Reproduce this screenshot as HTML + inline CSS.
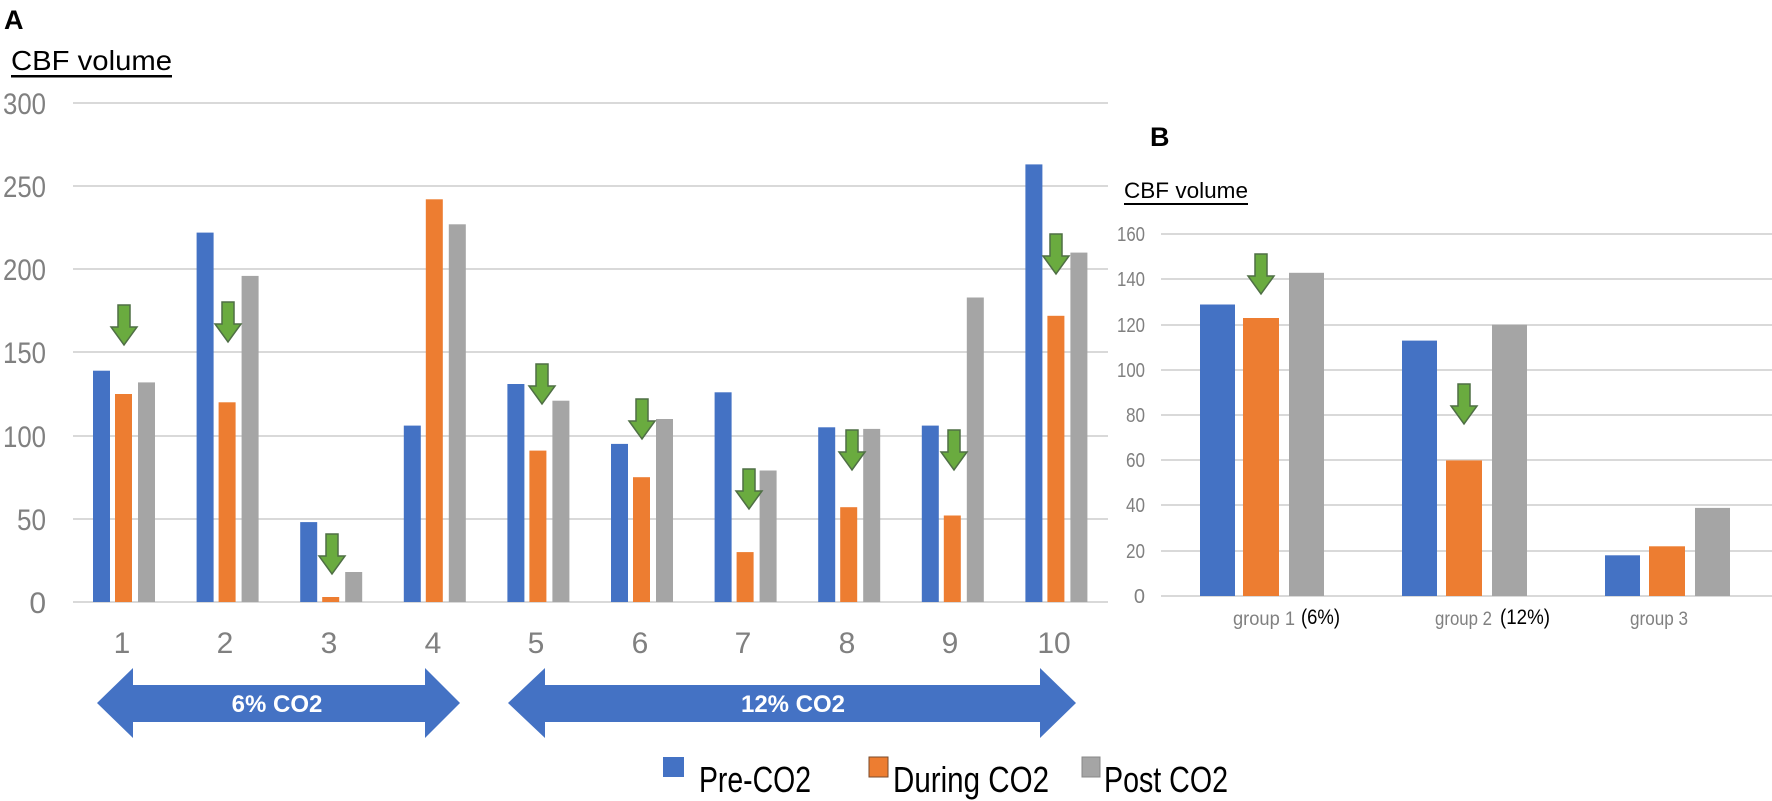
<!DOCTYPE html>
<html><head><meta charset="utf-8"><style>
html,body{margin:0;padding:0;background:#fff;}
svg{display:block;}
text{font-family:"Liberation Sans",sans-serif;}
</style></head><body>
<svg width="1772" height="801" viewBox="0 0 1772 801" xmlns="http://www.w3.org/2000/svg">
<defs>
<path id="ar" d="M-6,0 L6,0 L6,22 L13,22 L0,40 L-13,22 L-6,22 Z" fill="#6aab3f" stroke="#4f6f45" stroke-width="1.5"/>
</defs>
<!-- Panel A titles -->
<text x="4" y="29" font-size="27" font-weight="bold" fill="#000">A</text>
<text x="11" y="70" font-size="28" fill="#000" textLength="161" lengthAdjust="spacingAndGlyphs">CBF volume</text>
<rect x="11" y="75" width="161" height="2.5" fill="#000"/>
<!-- A gridlines -->
<g stroke="#d9d9d9" stroke-width="2">
<line x1="73" x2="1108" y1="103" y2="103"/>
<line x1="73" x2="1108" y1="186" y2="186"/>
<line x1="73" x2="1108" y1="269" y2="269"/>
<line x1="73" x2="1108" y1="352" y2="352"/>
<line x1="73" x2="1108" y1="436" y2="436"/>
<line x1="73" x2="1108" y1="519" y2="519"/>
<line x1="73" x2="1108" y1="602" y2="602"/>
</g>
<g font-size="30" fill="#808080" text-anchor="end">
<text x="46" y="114" textLength="43" lengthAdjust="spacingAndGlyphs">300</text>
<text x="46" y="197" textLength="43" lengthAdjust="spacingAndGlyphs">250</text>
<text x="46" y="280" textLength="43" lengthAdjust="spacingAndGlyphs">200</text>
<text x="46" y="363" textLength="43" lengthAdjust="spacingAndGlyphs">150</text>
<text x="46" y="447" textLength="43" lengthAdjust="spacingAndGlyphs">100</text>
<text x="46" y="530" textLength="29" lengthAdjust="spacingAndGlyphs">50</text>
<text x="46" y="613">0</text>
</g>
<!-- A bars -->
<g fill="#4472c4">
<rect x="93" y="370.7" width="17" height="231.3"/>
<rect x="196.6" y="232.6" width="17" height="369.4"/>
<rect x="300.2" y="522.1" width="17" height="79.9"/>
<rect x="403.8" y="425.6" width="17" height="176.4"/>
<rect x="507.4" y="384" width="17" height="218"/>
<rect x="611" y="443.9" width="17" height="158.1"/>
<rect x="714.6" y="392.3" width="17" height="209.7"/>
<rect x="818.2" y="427.3" width="17" height="174.7"/>
<rect x="921.8" y="425.6" width="17" height="176.4"/>
<rect x="1025.4" y="164.4" width="17" height="437.6"/>
</g>
<g fill="#ed7d31">
<rect x="115" y="394" width="17" height="208"/>
<rect x="218.6" y="402.3" width="17" height="199.7"/>
<rect x="322.2" y="597" width="17" height="5"/>
<rect x="425.8" y="199.3" width="17" height="402.7"/>
<rect x="529.4" y="450.6" width="17" height="151.4"/>
<rect x="633" y="477.2" width="17" height="124.8"/>
<rect x="736.6" y="552.1" width="17" height="49.9"/>
<rect x="840.2" y="507.2" width="17" height="94.8"/>
<rect x="943.8" y="515.5" width="17" height="86.5"/>
<rect x="1047.4" y="315.8" width="17" height="286.2"/>
</g>
<g fill="#a5a5a5">
<rect x="138" y="382.4" width="17" height="219.6"/>
<rect x="241.6" y="275.9" width="17" height="326.1"/>
<rect x="345.2" y="572" width="17" height="30"/>
<rect x="448.8" y="224.3" width="17" height="377.7"/>
<rect x="552.4" y="400.7" width="17" height="201.3"/>
<rect x="656" y="419" width="17" height="183"/>
<rect x="759.6" y="470.5" width="17" height="131.5"/>
<rect x="863.2" y="428.9" width="17" height="173.1"/>
<rect x="966.8" y="297.5" width="17" height="304.5"/>
<rect x="1070.4" y="252.6" width="17" height="349.4"/>
</g>
<!-- A arrows -->
<use href="#ar" x="124" y="305"/>
<use href="#ar" x="228" y="302"/>
<use href="#ar" x="332" y="534"/>
<use href="#ar" x="542" y="364"/>
<use href="#ar" x="642" y="399"/>
<use href="#ar" x="749" y="469"/>
<use href="#ar" x="852" y="430"/>
<use href="#ar" x="954" y="430"/>
<use href="#ar" x="1056" y="234"/>
<!-- A x labels -->
<g font-size="30" fill="#808080" text-anchor="middle">
<text x="122" y="653">1</text>
<text x="225" y="653">2</text>
<text x="329" y="653">3</text>
<text x="433" y="653">4</text>
<text x="536" y="653">5</text>
<text x="640" y="653">6</text>
<text x="743" y="653">7</text>
<text x="847" y="653">8</text>
<text x="950" y="653">9</text>
<text x="1054" y="653">10</text>
</g>
<!-- double arrows -->
<path d="M97,703 L133,668 L133,685 L425,685 L425,668 L460,703 L425,738 L425,722 L133,722 L133,738 Z" fill="#4472c4"/>
<path d="M508,703 L545,668 L545,685 L1040,685 L1040,668 L1076,703 L1040,738 L1040,722 L545,722 L545,738 Z" fill="#4472c4"/>
<text x="277" y="712" font-size="24" font-weight="bold" fill="#fff" text-anchor="middle">6% CO2</text>
<text x="793" y="712" font-size="24" font-weight="bold" fill="#fff" text-anchor="middle">12% CO2</text>
<!-- legend -->
<rect x="663" y="757" width="21" height="20" fill="#4472c4"/>
<text x="699" y="792" font-size="36" fill="#000" textLength="112" lengthAdjust="spacingAndGlyphs">Pre-CO2</text>
<rect x="869" y="757" width="19" height="20" fill="#ed7d31" stroke="#7a4a2a" stroke-width="1"/>
<text x="893" y="792" font-size="36" fill="#000" textLength="156" lengthAdjust="spacingAndGlyphs">During CO2</text>
<rect x="1082" y="757" width="18" height="20" fill="#a5a5a5" stroke="#888" stroke-width="1"/>
<text x="1104" y="792" font-size="36" fill="#000" textLength="124" lengthAdjust="spacingAndGlyphs">Post CO2</text>

<!-- Panel B -->
<text x="1150" y="146" font-size="27" font-weight="bold" fill="#000">B</text>
<text x="1124" y="198" font-size="22" fill="#000" textLength="124" lengthAdjust="spacingAndGlyphs">CBF volume</text>
<rect x="1124" y="203" width="124" height="2" fill="#000"/>
<g stroke="#d9d9d9" stroke-width="2">
<line x1="1161" x2="1772" y1="234" y2="234"/>
<line x1="1161" x2="1772" y1="279" y2="279"/>
<line x1="1161" x2="1772" y1="325" y2="325"/>
<line x1="1161" x2="1772" y1="370" y2="370"/>
<line x1="1161" x2="1772" y1="415" y2="415"/>
<line x1="1161" x2="1772" y1="460" y2="460"/>
<line x1="1161" x2="1772" y1="505" y2="505"/>
<line x1="1161" x2="1772" y1="551" y2="551"/>
<line x1="1161" x2="1772" y1="596" y2="596"/>
</g>
<g font-size="20" fill="#808080" text-anchor="end">
<text x="1145" y="241" textLength="28" lengthAdjust="spacingAndGlyphs">160</text>
<text x="1145" y="286" textLength="28" lengthAdjust="spacingAndGlyphs">140</text>
<text x="1145" y="332" textLength="28" lengthAdjust="spacingAndGlyphs">120</text>
<text x="1145" y="377" textLength="28" lengthAdjust="spacingAndGlyphs">100</text>
<text x="1145" y="422" textLength="19" lengthAdjust="spacingAndGlyphs">80</text>
<text x="1145" y="467" textLength="19" lengthAdjust="spacingAndGlyphs">60</text>
<text x="1145" y="512" textLength="19" lengthAdjust="spacingAndGlyphs">40</text>
<text x="1145" y="558" textLength="19" lengthAdjust="spacingAndGlyphs">20</text>
<text x="1145" y="603">0</text>
</g>
<rect x="1200" y="304.5" width="35" height="291.5" fill="#4472c4"/>
<rect x="1243" y="318" width="36" height="278" fill="#ed7d31"/>
<rect x="1289" y="272.8" width="35" height="323.2" fill="#a5a5a5"/>
<rect x="1402" y="340.6" width="35" height="255.4" fill="#4472c4"/>
<rect x="1446" y="460.4" width="36" height="135.6" fill="#ed7d31"/>
<rect x="1492" y="324.8" width="35" height="271.2" fill="#a5a5a5"/>
<rect x="1605" y="555.3" width="35" height="40.7" fill="#4472c4"/>
<rect x="1649" y="546.3" width="36" height="49.7" fill="#ed7d31"/>
<rect x="1695" y="507.9" width="35" height="88.1" fill="#a5a5a5"/>
<use href="#ar" x="1261" y="254"/>
<use href="#ar" x="1464" y="384"/>
<g font-size="19" fill="#808080">
<text x="1233" y="625" textLength="62" lengthAdjust="spacingAndGlyphs">group 1</text>
<text x="1435" y="625" textLength="57" lengthAdjust="spacingAndGlyphs">group 2</text>
<text x="1630" y="625" textLength="58" lengthAdjust="spacingAndGlyphs">group 3</text>
</g>
<g font-size="21" fill="#000">
<text x="1301" y="624" textLength="39" lengthAdjust="spacingAndGlyphs">(6%)</text>
<text x="1500" y="624" textLength="50" lengthAdjust="spacingAndGlyphs">(12%)</text>
</g>
</svg>
</body></html>
